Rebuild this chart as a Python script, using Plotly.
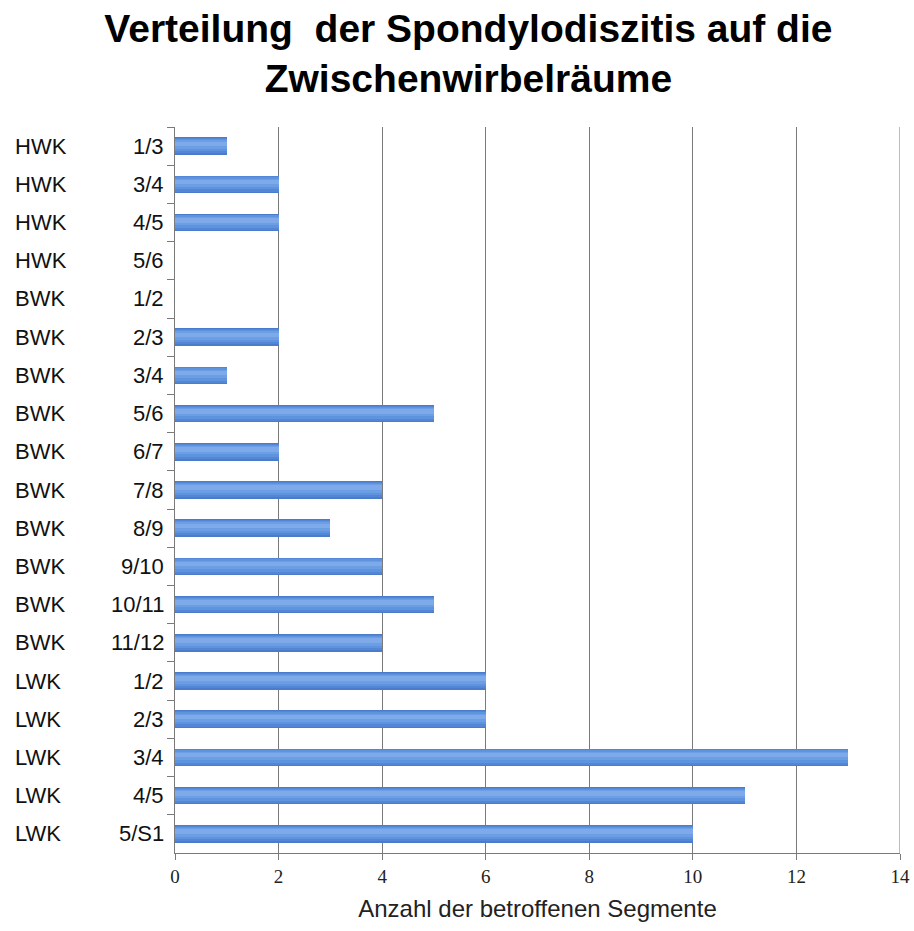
import plotly.graph_objects as go

# Intervertebral spaces, top to bottom
regions = ["HWK", "HWK", "HWK", "HWK", "BWK", "BWK", "BWK", "BWK", "BWK", "BWK",
           "BWK", "BWK", "BWK", "BWK", "LWK", "LWK", "LWK", "LWK", "LWK"]
segments = ["1/3", "3/4", "4/5", "5/6", "1/2", "2/3", "3/4", "5/6", "6/7", "7/8",
            "8/9", "9/10", "10/11", "11/12", "1/2", "2/3", "3/4", "4/5", "5/S1"]
counts = [1, 2, 2, 0, 0, 2, 1, 5, 2, 4, 3, 4, 5, 4, 6, 6, 13, 11, 10]
x_ticks = [0, 2, 4, 6, 8, 10, 12, 14]

cats = [f"{r} {s}" for r, s in zip(regions, segments)]

fig = go.Figure()
# stacked layers of decreasing thickness give the bars a soft glossy gradient
layers = [(0.46, 0.0, "#4a7ccb"), (0.40, -0.01, "#5387d5"),
          (0.32, -0.025, "#5e93de"), (0.22, -0.04, "#6b9ee5"),
          (0.12, -0.06, "#7eaaea")]
for w, shift, col in layers:
    fig.add_trace(go.Bar(y=cats, x=counts, orientation="h", width=w,
                         offset=-w / 2 + shift,
                         marker=dict(color=col, line=dict(width=0)),
                         hoverinfo="skip"))

label_font = dict(family="Liberation Sans, Arial", size=22, color="#111")
annotations = []
for c, r, s in zip(cats, regions, segments):
    annotations.append(dict(text=r, x=-0.2235, xref="paper", y=c, yref="y",
                            xanchor="left", yanchor="middle", showarrow=False,
                            font=label_font))
    annotations.append(dict(text=s, x=-0.0124, xref="paper", y=c, yref="y",
                            xanchor="right", yanchor="middle", showarrow=False,
                            font=label_font))

fig.update_layout(
    width=914, height=931,
    margin=dict(l=175, r=14, t=127, b=78, autoexpand=False),
    paper_bgcolor="white", plot_bgcolor="white",
    barmode="overlay", bargap=0, showlegend=False,
    title=dict(text="<b>Verteilung  der Spondylodiszitis auf die<br>Zwischenwirbelräume</b>",
               x=0.5125, xanchor="center", y=0.9552, yanchor="middle",
               font=dict(family="Liberation Sans, Arial", size=39, color="#000")),
    annotations=annotations,
    xaxis=dict(range=[0, 14], tickvals=x_ticks, showgrid=True, gridcolor="#7a7a7a",
               gridwidth=1, showline=True, linecolor="#7a7a7a", ticks="outside",
               ticklen=6, tickcolor="#7a7a7a", zeroline=False, automargin=False,
               tickfont=dict(family="Liberation Serif, Times New Roman", size=19, color="#222"),
               title=dict(text="Anzahl der betroffenen Segmente", standoff=14,
                          font=dict(family="Liberation Sans, Arial", size=24, color="#222"))),
    yaxis=dict(categoryorder="array", categoryarray=cats, autorange="reversed",
               showticklabels=False, showgrid=False, showline=True, linecolor="#7a7a7a",
               ticks="outside", tickson="boundaries", ticklen=7, tickcolor="#7a7a7a",
               automargin=False),
)
fig.add_shape(type="line", xref="x", yref="paper", x0=14, x1=14, y0=0, y1=1,
              line=dict(color="#7a7a7a", width=1))

fig.write_html("out.html")
